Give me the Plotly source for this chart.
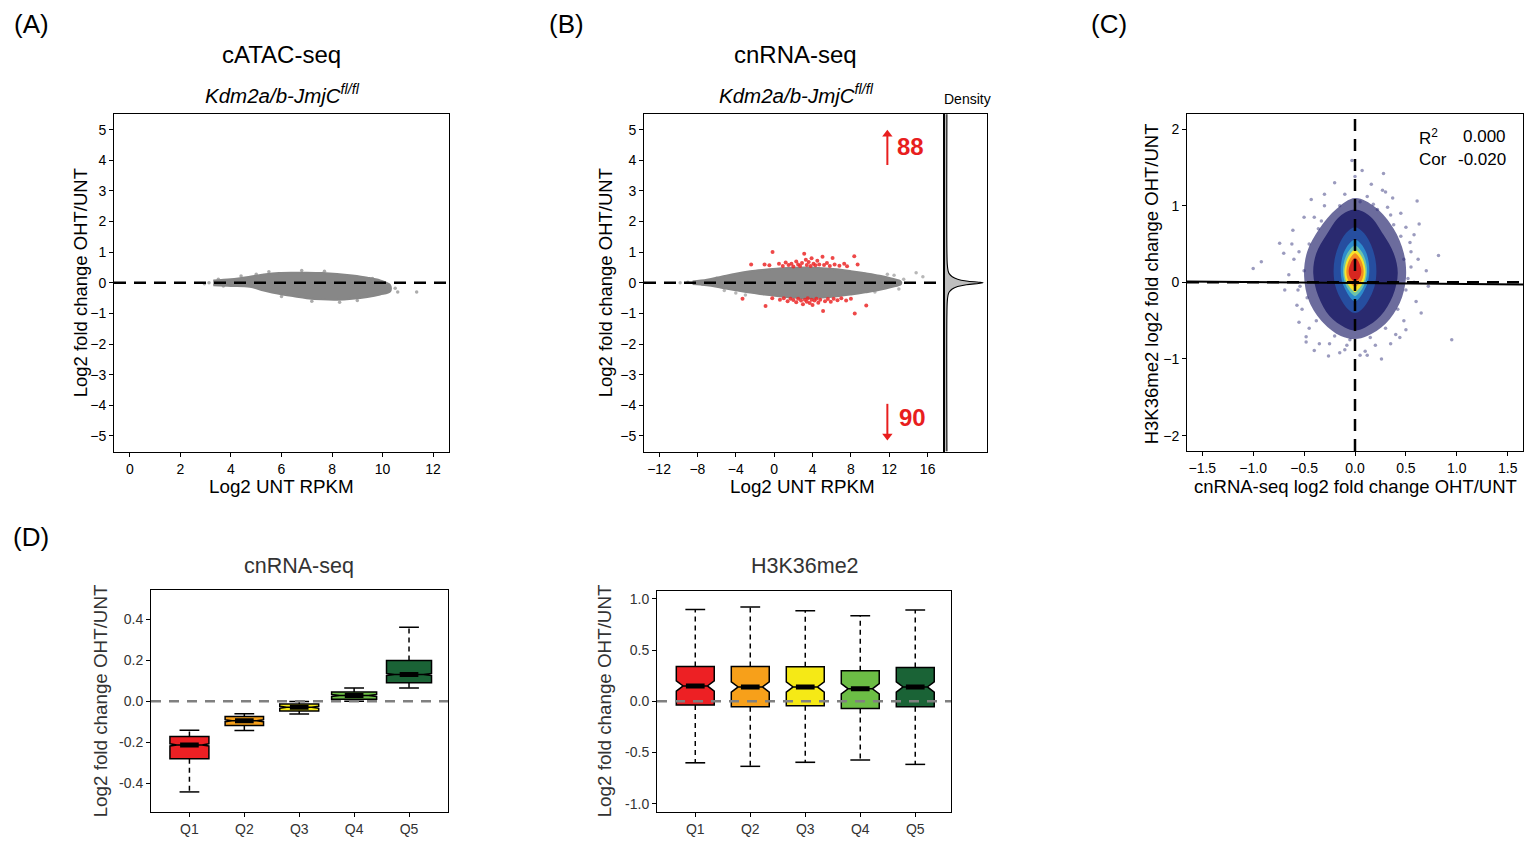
import plotly.graph_objects as go

# ------------------------------------------------------------------ data
# (A) cATAC-seq MA cloud: envelope of the dense grey cloud + stray points
a_env_x = [3.3, 4.0, 4.75, 5.3, 5.9, 6.5, 7.0, 7.6, 8.2, 8.8, 9.4, 9.9, 10.3]
a_env_hi = [0.08, 0.12, 0.20, 0.27, 0.32, 0.33, 0.33, 0.32, 0.29, 0.24, 0.17, 0.08, -0.08]
a_env_lo = [-0.08, -0.10, -0.13, -0.25, -0.36, -0.44, -0.50, -0.54, -0.55, -0.52, -0.46, -0.38, -0.28]
a_out_x = [3.13, 2.95, 3.5, 3.7, 4.4, 5.5, 6.8, 7.7, 8.3, 7.2, 10.6, 11.35, 10.5, 9.0, 6.0, 5.0, 9.6]
a_out_y = [0.0, -0.03, 0.12, -0.10, 0.22, 0.36, 0.40, 0.38, -0.63, -0.60, -0.30, -0.30, -0.18, -0.58, -0.45, 0.28, 0.14]

# (B) cnRNA-seq MA cloud
b_env_x = [-8.5, -7.0, -5.5, -4.0, -2.5, -1.0, 0.5, 2.0, 3.5, 5.0, 6.5, 8.0, 9.5, 11.0, 12.2, 13.2]
b_env_hi = [0.04, 0.10, 0.20, 0.30, 0.38, 0.43, 0.47, 0.49, 0.50, 0.48, 0.44, 0.38, 0.31, 0.23, 0.14, 0.04]
b_env_lo = [-0.04, -0.08, -0.16, -0.24, -0.32, -0.38, -0.44, -0.48, -0.50, -0.48, -0.44, -0.38, -0.31, -0.23, -0.14, -0.04]
b_out_x = [-9.8, -9.0, -7.5, -6.0, -4.0, -3.0, 13.5, 14.8, 15.5, 13.0, 12.5, -5.2, 10.5, 11.8]
b_out_y = [0.0, 0.02, -0.05, 0.15, -0.33, -0.40, 0.12, 0.33, 0.20, -0.20, 0.25, -0.25, -0.30, 0.28]
b_up_x = [-2.4, -1.0, -0.5, -0.17, 0.5, 0.9, 1.2, 1.5, 1.8, 2.0, 2.3, 2.5, 2.7, 2.9, 3.13, 3.3, 3.4, 3.6,
          3.8, 3.9, 4.1, 4.3, 4.5, 4.7, 5.04, 5.2, 5.5, 5.8, 6.09, 6.3, 6.8, 7.3, 7.6, 8.35, 8.7]
b_up_y = [0.60, 0.60, 0.57, 1.01, 0.62, 0.55, 0.66, 0.58, 0.62, 0.53, 0.70, 0.60, 0.55, 0.65, 0.95, 0.75, 0.58, 0.68,
          0.55, 0.80, 0.62, 0.57, 0.72, 0.60, 0.85, 0.58, 0.65, 0.55, 0.81, 0.60, 0.56, 0.62, 0.54, 0.87, 0.60]
b_dn_x = [-3.3, -0.9, -0.2, 0.6, 1.0, 1.4, 1.7, 2.0, 2.3, 2.5, 2.8, 3.0, 3.2, 3.4, 3.5, 3.7, 3.9,
          4.0, 4.2, 4.4, 4.6, 4.8, 5.1, 5.3, 5.6, 5.9, 6.2, 6.6, 7.0, 7.5, 8.0, 8.4, 9.6]
b_dn_y = [-0.52, -0.76, -0.50, -0.55, -0.50, -0.60, -0.52, -0.56, -0.63, -0.52, -0.58, -0.70, -0.55, -0.62, -0.50, -0.66, -0.55,
          -0.72, -0.58, -0.52, -0.65, -0.55, -0.92, -0.60, -0.53, -0.62, -0.52, -0.57, -0.50, -0.58, -0.52, -1.00, -0.74]
b_n_up, b_n_dn = 88, 90
# arrow glyphs next to the counts (x position, tail y, head y)
b_arrow_x = 11.8
b_arrow_up = [3.85, 4.85]
b_arrow_dn = [-3.95, -5.0]
# density of fold changes (side panel)
dens_y = [-5.5, -1.0, -0.6, -0.4, -0.3, -0.2, -0.12, -0.06, -0.02, 0.0, 0.02, 0.06, 0.12, 0.2, 0.3, 0.4, 0.6, 1.0, 5.5]
dens_v = [0.05, 0.05, 0.06, 0.08, 0.11, 0.19, 0.33, 0.56, 0.88, 1.0, 0.88, 0.56, 0.33, 0.19, 0.11, 0.08, 0.06, 0.05, 0.05]

# (C) density-coloured scatter: nested density contours (outer -> inner)
c_layers = [
    ("rgba(45,45,115,0.7)",
     [0.0, 0.2, 0.38, 0.48, 0.50, 0.44, 0.30, 0.12, 0.0, -0.14, -0.31, -0.45, -0.50, -0.47, -0.35, -0.18, 0.0],
     [1.10, 0.98, 0.70, 0.38, 0.05, -0.27, -0.54, -0.70, -0.74, -0.70, -0.53, -0.25, 0.08, 0.40, 0.70, 0.96, 1.10]),
    ("rgb(42,42,112)",
     [0.0, 0.15, 0.28, 0.38, 0.42, 0.37, 0.25, 0.10, 0.0, -0.10, -0.25, -0.36, -0.41, -0.38, -0.28, -0.15, 0.0],
     [0.95, 0.86, 0.62, 0.38, 0.12, -0.18, -0.44, -0.59, -0.63, -0.59, -0.44, -0.18, 0.12, 0.38, 0.62, 0.86, 0.95]),
    ("rgb(38,78,160)",
     [0.0, 0.09, 0.16, 0.20, 0.21, 0.19, 0.13, 0.06, 0.0, -0.06, -0.13, -0.19, -0.21, -0.20, -0.16, -0.09, 0.0],
     [0.72, 0.64, 0.48, 0.30, 0.12, -0.06, -0.24, -0.36, -0.40, -0.36, -0.24, -0.06, 0.12, 0.30, 0.48, 0.64, 0.72]),
    ("rgb(45,140,205)",
     [0.0, 0.06, 0.11, 0.135, 0.14, 0.125, 0.085, 0.04, 0.0, -0.04, -0.085, -0.125, -0.14, -0.135, -0.11, -0.06, 0.0],
     [0.56, 0.50, 0.39, 0.26, 0.13, 0.0, -0.12, -0.21, -0.25, -0.21, -0.12, 0.0, 0.13, 0.26, 0.39, 0.50, 0.56]),
    ("rgb(110,195,170)",
     [0.0, 0.05, 0.09, 0.112, 0.118, 0.105, 0.072, 0.032, 0.0, -0.032, -0.072, -0.105, -0.118, -0.112, -0.09, -0.05, 0.0],
     [0.48, 0.43, 0.34, 0.24, 0.13, 0.02, -0.08, -0.15, -0.18, -0.15, -0.08, 0.02, 0.13, 0.24, 0.34, 0.43, 0.48]),
    ("rgb(248,228,40)",
     [0.0, 0.042, 0.078, 0.098, 0.104, 0.094, 0.064, 0.027, 0.0, -0.027, -0.064, -0.094, -0.104, -0.098, -0.078, -0.042, 0.0],
     [0.43, 0.38, 0.30, 0.21, 0.13, 0.04, -0.04, -0.10, -0.13, -0.10, -0.04, 0.04, 0.13, 0.21, 0.30, 0.38, 0.43]),
    ("rgb(243,140,35)",
     [0.0, 0.034, 0.062, 0.080, 0.085, 0.077, 0.055, 0.022, 0.0, -0.022, -0.055, -0.077, -0.085, -0.080, -0.062, -0.034, 0.0],
     [0.38, 0.34, 0.28, 0.20, 0.13, 0.06, 0.0, -0.04, -0.06, -0.04, 0.0, 0.06, 0.13, 0.20, 0.28, 0.34, 0.38]),
    ("rgb(215,38,32)",
     [0.0, 0.025, 0.045, 0.058, 0.062, 0.056, 0.040, 0.017, 0.0, -0.017, -0.040, -0.056, -0.062, -0.058, -0.045, -0.025, 0.0],
     [0.32, 0.29, 0.24, 0.19, 0.14, 0.09, 0.05, 0.02, 0.01, 0.02, 0.05, 0.09, 0.14, 0.19, 0.24, 0.29, 0.32]),
]
c_out_x = [-1.0, -0.92, -0.74, -0.69, -0.61, -0.48, -0.40, -0.26, -0.03, 0.07, 0.26, 0.61, 0.63, 0.95, 0.82, 0.72,
           0.44, 0.54, -0.43, -0.2, 0.16, 0.37, -0.54, -0.57, 0.55, 0.6, -0.6, -0.65, 0.1, -0.1, 0.3, -0.3, 0.45,
           -0.5, 0.58, -0.55, 0.5, 0.0, 0.12, -0.35, 0.35, 0.7, -0.7, 0.65, 0.28, -0.15,
           0.45, 0.48, 0.50, 0.42, 0.30, 0.15, -0.05, -0.20, -0.38, -0.47, -0.50, -0.45, -0.33, -0.15, 0.05, 0.22,
           0.38, 0.55, 0.58, 0.48, 0.20, -0.25, -0.45, -0.56, -0.55, -0.40, -0.10, 0.12, 0.32, 0.50, 0.62, 0.40,
           -0.62, -0.30, 0.27, 0.05, -0.48, 0.52, -0.52, 0.18, -0.08, 0.35, -0.36]
c_out_y = [0.18, 0.27, 0.51, -0.10, 0.68, -0.71, -0.89, -0.96, 1.59, 1.46, -1.0, 1.06, 0.76, -0.75, 0.35, -0.05,
           -0.72, 0.52, 1.08, 1.30, 1.28, 1.10, -0.05, -0.30, 0.20, -0.25, 0.30, 0.10, -0.90, -0.88, 1.18, 1.15, 0.90,
           0.85, 0.62, -0.52, -0.62, 1.38, -0.95, -0.80, -0.80, 0.15, 0.38, -0.40, 1.42, -0.92,
           0.60, 0.30, -0.10, -0.35, -0.60, -0.72, -0.75, -0.70, -0.50, -0.20, 0.15, 0.50, 0.80, 1.00, 1.05, 0.95,
           0.75, 0.40, 0.00, -0.50, -0.82, -0.80, -0.60, -0.10, 0.40, 0.85, 1.15, 1.12, 0.98, 0.72, 0.30, -0.68,
           0.50, 1.00, 1.20, -0.95, -0.78, 0.05, -0.35, 1.02, -0.82, 0.88, 0.70]
c_fit_intercept, c_fit_slope = -0.008, -0.012
c_r2, c_cor = "0.000", "-0.020"

# (D) box plots by expression quintile
quint = ["Q1", "Q2", "Q3", "Q4", "Q5"]
q_colors = ["rgb(237,32,36)", "rgb(247,160,26)", "rgb(245,233,22)", "rgb(108,189,69)", "rgb(26,99,54)"]
dl_lo = [-0.441, -0.142, -0.062, 0.000, 0.065]
dl_q1 = [-0.280, -0.118, -0.047, 0.010, 0.091]
dl_med = [-0.212, -0.094, -0.029, 0.028, 0.131]
dl_q3 = [-0.171, -0.074, -0.013, 0.045, 0.199]
dl_hi = [-0.141, -0.060, -0.001, 0.065, 0.361]
dl_w = [0.71, 0.70, 0.71, 0.82, 0.82]
dr_lo = [-0.600, -0.634, -0.595, -0.573, -0.615]
dr_q1 = [-0.036, -0.052, -0.042, -0.071, -0.052]
dr_med = [0.150, 0.140, 0.140, 0.122, 0.140]
dr_q3 = [0.340, 0.340, 0.337, 0.298, 0.330]
dr_hi = [0.896, 0.919, 0.883, 0.835, 0.890]
dr_w = [0.69, 0.69, 0.69, 0.69, 0.69]

# ------------------------------------------------------------------ layout helpers
W, H, OFF = 1518, 829, 8


def fx(X):
    return (X - OFF) / W


def fy(Y):
    return 1 - (Y - OFF) / H


FONT = "Liberation Sans, Arial, sans-serif"
TICKF = dict(size=14, color="black", family=FONT)
fig = go.Figure()


def ax(x0, x1, rng, anchor, **kw):
    d = dict(domain=[fx(x0), fx(x1)], range=rng, anchor=anchor, showline=True, linecolor="black", linewidth=1,
             mirror=True, ticks="outside", ticklen=4, tickwidth=1, tickcolor="black",
             showgrid=False, zeroline=False, tickfont=TICKF)
    d.update(kw)
    return d


def ay(y0, y1, rng, anchor, **kw):
    d = dict(domain=[fy(y1), fy(y0)], range=rng, anchor=anchor, showline=True, linecolor="black", linewidth=1,
             mirror=True, ticks="outside", ticklen=4, tickwidth=1, tickcolor="black",
             showgrid=False, zeroline=False, tickfont=TICKF)
    d.update(kw)
    return d


GREY = "rgb(135,135,135)"
RED = "rgb(232,30,30)"
# ---- (A)
fig.add_trace(go.Scatter(x=a_env_x + a_env_x[::-1], y=a_env_hi + a_env_lo[::-1], fill="toself",
                         fillcolor=GREY, line=dict(color=GREY, width=2, shape="spline"), mode="lines",
                         xaxis="x", yaxis="y", hoverinfo="skip"))
fig.add_trace(go.Scatter(x=a_out_x, y=a_out_y, mode="markers", marker=dict(size=3.5, color=GREY, opacity=0.7),
                         xaxis="x", yaxis="y", hoverinfo="skip"))
# ---- (B)
fig.add_trace(go.Scatter(x=b_env_x + b_env_x[::-1], y=b_env_hi + b_env_lo[::-1], fill="toself",
                         fillcolor=GREY, line=dict(color=GREY, width=2, shape="spline"), mode="lines",
                         xaxis="x2", yaxis="y2", hoverinfo="skip"))
fig.add_trace(go.Scatter(x=b_out_x, y=b_out_y, mode="markers", marker=dict(size=3.5, color=GREY, opacity=0.6),
                         xaxis="x2", yaxis="y2", hoverinfo="skip"))
fig.add_trace(go.Scatter(x=b_up_x + b_dn_x, y=b_up_y + b_dn_y, mode="markers",
                         marker=dict(size=4, color="rgb(235,40,40)", opacity=0.85),
                         xaxis="x2", yaxis="y2", hoverinfo="skip"))
# arrows (shaft + head) next to the counts
for tail, head, sym in [(b_arrow_up[0], b_arrow_up[1], "triangle-up"), (b_arrow_dn[0], b_arrow_dn[1], "triangle-down")]:
    fig.add_trace(go.Scatter(x=[b_arrow_x, b_arrow_x], y=[tail, head], mode="lines",
                             line=dict(color=RED, width=2), xaxis="x2", yaxis="y2", hoverinfo="skip"))
    fig.add_trace(go.Scatter(x=[b_arrow_x], y=[head], mode="markers",
                             marker=dict(symbol=sym, size=9, color=RED), xaxis="x2", yaxis="y2", hoverinfo="skip"))
fig.add_trace(go.Scatter(x=dens_v, y=dens_y, mode="lines", fill="tozerox", fillcolor="rgb(190,190,190)",
                         line=dict(color="black", width=1.1, shape="spline"), xaxis="x3", yaxis="y3",
                         hoverinfo="skip"))
# ---- (C)
fig.add_trace(go.Scatter(x=c_out_x, y=c_out_y, mode="markers",
                         marker=dict(size=3.5, color="rgb(55,55,125)", opacity=0.5),
                         xaxis="x4", yaxis="y4", hoverinfo="skip"))
for col, xs, ys in c_layers:
    fig.add_trace(go.Scatter(x=xs, y=ys, mode="lines", fill="toself", fillcolor=col,
                             line=dict(width=0, shape="spline", smoothing=1.0), xaxis="x4", yaxis="y4",
                             hoverinfo="skip"))
c_xr = [-1.65, 1.65]
fig.add_trace(go.Scatter(x=c_xr, y=[c_fit_intercept + c_fit_slope * v for v in c_xr], mode="lines",
                         line=dict(color="black", width=2), xaxis="x4", yaxis="y4", hoverinfo="skip"))

# ---- (D)
CAP = 0.18
BAR = 0.17


def boxes(xa, ya, lo, q1, med, q3, hi, wid, nspan):
    for i in range(5):
        fig.add_trace(go.Box(x=[i], q1=[q1[i]], median=[med[i]], q3=[q3[i]], lowerfence=[q1[i]],
                             upperfence=[q3[i]], notched=True, notchspan=[nspan], notchwidth=0.18,
                             width=wid[i], whiskerwidth=0, fillcolor=q_colors[i],
                             line=dict(color="black", width=1.5), xaxis=xa, yaxis=ya, hoverinfo="skip"))
        fig.add_trace(go.Scatter(x=[i, i, None, i, i], y=[q3[i], hi[i], None, q1[i], lo[i]], mode="lines",
                                 line=dict(color="black", width=1.5, dash="5px,4px"), xaxis=xa, yaxis=ya,
                                 hoverinfo="skip"))
        fig.add_trace(go.Scatter(x=[i - CAP, i + CAP, None, i - CAP, i + CAP],
                                 y=[hi[i], hi[i], None, lo[i], lo[i]], mode="lines",
                                 line=dict(color="black", width=1.5), xaxis=xa, yaxis=ya, hoverinfo="skip"))
        fig.add_trace(go.Scatter(x=[i - BAR, i + BAR], y=[med[i], med[i]], mode="lines",
                                 line=dict(color="black", width=5), xaxis=xa, yaxis=ya, hoverinfo="skip"))


boxes("x5", "y5", dl_lo, dl_q1, dl_med, dl_q3, dl_hi, dl_w, 0.005)
boxes("x6", "y6", dr_lo, dr_q1, dr_med, dr_q3, dr_hi, dr_w, 0.05)

# ------------------------------------------------------------------ axes
DG = "#333333"
DFONT = dict(size=14, color=DG, family=FONT)
fig.update_layout(
    width=W, height=H, margin=dict(l=0, r=0, t=0, b=0), showlegend=False,
    plot_bgcolor="white", paper_bgcolor="white", font=dict(family=FONT, color="black"),
    xaxis=ax(114, 449, [-0.63, 12.63], "y", tickvals=[0, 2, 4, 6, 8, 10, 12]),
    yaxis=ay(114, 453, [-5.52, 5.52], "x", tickvals=[-5, -4, -3, -2, -1, 0, 1, 2, 3, 4, 5]),
    xaxis2=ax(644, 943, [-13.57, 17.6], "y2", tickvals=[-12, -8, -4, 0, 4, 8, 12, 16]),
    yaxis2=ay(114, 453, [-5.52, 5.52], "x2", tickvals=[-5, -4, -3, -2, -1, 0, 1, 2, 3, 4, 5]),
    xaxis3=ax(945, 987, [0, 1.1], "y3", ticks="", showticklabels=False),
    yaxis3=ay(114, 453, [-5.52, 5.52], "x3", ticks="", showticklabels=False),
    xaxis4=ax(1187, 1523, [-1.65, 1.65], "y4", tickvals=[-1.5, -1, -0.5, 0, 0.5, 1, 1.5], tickformat=".1f"),
    yaxis4=ay(114, 452, [-2.2, 2.2], "x4", tickvals=[-2, -1, 0, 1, 2]),
    xaxis5=ax(151, 448, [-0.70, 4.71], "y5", tickvals=[0, 1, 2, 3, 4], ticktext=quint, tickfont=DFONT),
    yaxis5=ay(591, 814, [-0.539, 0.544], "x5", tickvals=[-0.4, -0.2, 0, 0.2, 0.4],
              ticktext=["-0.4", "-0.2", "0.0", "0.2", "0.4"], tickfont=DFONT),
    xaxis6=ax(657, 951, [-0.696, 4.65], "y6", tickvals=[0, 1, 2, 3, 4], ticktext=quint, tickfont=DFONT),
    yaxis6=ay(592, 814, [-1.08, 1.08], "x6", tickvals=[-1, -0.5, 0, 0.5, 1],
              ticktext=["-1.0", "-0.5", "0.0", "0.5", "1.0"], tickfont=DFONT),
)

# reference lines
DASH = "12px,8px"
shapes = [
    dict(type="line", xref="x domain", yref="y", x0=0, x1=1, y0=0, y1=0, line=dict(color="black", width=2.5, dash=DASH)),
    dict(type="line", xref="x2 domain", yref="y2", x0=0, x1=1, y0=0, y1=0, line=dict(color="black", width=2.5, dash=DASH)),
    dict(type="line", xref="x4 domain", yref="y4", x0=0, x1=1, y0=0, y1=0, line=dict(color="black", width=2.5, dash=DASH)),
    dict(type="line", xref="x4", yref="y4 domain", x0=0, x1=0, y0=0, y1=1, line=dict(color="black", width=2.5, dash=DASH)),
    dict(type="line", xref="x5 domain", yref="y5", x0=0, x1=1, y0=0, y1=0, line=dict(color="rgb(128,128,128)", width=2.5, dash="10px,8px")),
    dict(type="line", xref="x6 domain", yref="y6", x0=0, x1=1, y0=0, y1=0, line=dict(color="rgb(128,128,128)", width=2.5, dash="10px,8px")),
]
fig.update_layout(shapes=shapes)


def txt(X, Y, s, size, color="black", angle=0, xanchor="center", **kw):
    fig.add_annotation(x=fx(X), y=fy(Y), xref="paper", yref="paper", text=s, showarrow=False,
                       font=dict(size=size, color=color, family=FONT), textangle=angle,
                       xanchor=xanchor, yanchor="middle", **kw)


for lab, X, Y in [("(A)", 31, 24), ("(B)", 566, 24), ("(C)", 1109, 24), ("(D)", 31, 538)]:
    txt(X, Y, lab, 26)
txt(281, 55, "cATAC-seq", 24)
txt(795, 55, "cnRNA-seq", 24)
txt(282, 94, "<i>Kdm2a/b-JmjC<sup>fl/fl</sup></i>", 20.5)
txt(796, 94, "<i>Kdm2a/b-JmjC<sup>fl/fl</sup></i>", 20.5)
txt(967, 99, "Density", 14)
txt(80, 284, "Log2 fold change OHT/UNT", 18.5, angle=-90)
txt(605, 284, "Log2 fold change OHT/UNT", 18.5, angle=-90)
txt(1151, 285, "H3K36me2 log2 fold change OHT/UNT", 18.5, angle=-90)
txt(281, 488, "Log2 UNT RPKM", 18.8)
txt(802, 488, "Log2 UNT RPKM", 18.8)
txt(1355, 488, "cnRNA-seq log2 fold change OHT/UNT", 18.5)
txt(1417, 137, "R<sup>2</sup>", 17, xanchor="left")
txt(1417, 160, "Cor", 17, xanchor="left")
txt(1508, 137, c_r2, 17, xanchor="right")
txt(1508, 160, c_cor, 17, xanchor="right")
txt(299, 567, "cnRNA-seq", 21.5, color=DG)
txt(805, 567, "H3K36me2", 21.5, color=DG)
txt(100, 703, "Log2 fold change OHT/UNT", 18.8, color=DG, angle=-90)
txt(604, 703, "Log2 fold change OHT/UNT", 18.8, color=DG, angle=-90)

# up / down counts in panel B
fig.add_annotation(x=14.2, y=4.44, xref="x2", yref="y2", text="<b>%d</b>" % b_n_up, showarrow=False,
                   font=dict(size=24, color=RED, family=FONT))
fig.add_annotation(x=14.4, y=-4.39, xref="x2", yref="y2", text="<b>%d</b>" % b_n_dn, showarrow=False,
                   font=dict(size=24, color=RED, family=FONT))

fig.write_html("out.html")
